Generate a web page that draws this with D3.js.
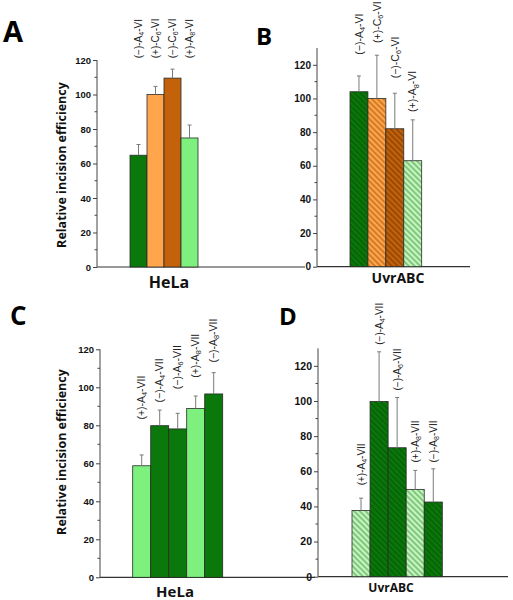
<!DOCTYPE html>
<html><head><meta charset="utf-8">
<script src="https://cdn.jsdelivr.net/npm/d3@7"></script>
<style>body{margin:0;background:#fff}</style>
</head><body>
<svg id="c" width="513" height="600" xmlns="http://www.w3.org/2000/svg"></svg>
<script>
// ---- data ----
const catsA = ["(−)-A4-VI","(+)-C6-VI","(−)-C6-VI","(+)-A8-VI"];
const valsA = [64.8, 100, 109.5, 74.8];
const errsA = [6.2, 4.7, 5.2, 7.5];
const labelAtA = [121, 121, 121, 121];

const catsB = ["(−)-A4-VI","(+)-C6-VI","(−)-C6-VI","(+)-A8-VI"];
const valsB = [104, 100, 82, 63];
const errsB = [9.4, 25.7, 21.1, 24.3];
const labelAtB = [126, 133, 112, 92];

const catsC = ["(+)-A4-VII","(−)-A4-VII","(−)-A6-VII","(+)-A8-VII","(−)-A8-VII"];
const valsC = [58.7, 79.8, 78.1, 88.9, 96.5];
const errsC = [5.7, 8.2, 8.2, 6.5, 11.2];
const labelAtC = [83, 92, 99, 105, 113];

const catsD = ["(+)-A4-VII","(−)-A4-VII","(−)-A6-VII","(+)-A8-VII","(−)-A8-VII"];
const valsD = [37.7, 99.7, 73.4, 49.7, 42.5];
const errsD = [7, 28.3, 28.6, 10.8, 18.9];
const labelAtD = [52, 132, 106, 65, 65];

const yTicks = [0, 20, 40, 60, 80, 100, 120];
const yMinorTicks = [10, 30, 50, 70, 90, 110];
const yTitle = "Relative incision efficiency";

// ---- styles ----
const solid = {dg:"#0a780a", lg:"#7df07d", lo:"#ffa64d", br:"#c4620c"};
const hatch = {
  dg:{fill:"#0a780a", line:"#035203"},
  lo:{fill:"#ffa64d", line:"#a65200"},
  br:{fill:"#c4620c", line:"#6e3400"},
  lg:{fill:"#c6f5c0", line:"#3c9c3c"}
};
const svg = d3.select("#c");
const defs = svg.append("defs");
Object.entries(hatch).forEach(([k,h])=>{
  const p = defs.append("pattern").attr("id","h_"+k).attr("patternUnits","userSpaceOnUse")
    .attr("width",4).attr("height",4).attr("patternTransform","rotate(-45)");
  p.append("rect").attr("width",4).attr("height",4).attr("fill",h.fill);
  p.append("line").attr("x1",1).attr("x2",1).attr("y1",0).attr("y2",4)
    .attr("stroke",h.line).attr("stroke-width",1);
});

const panels = [
  {letter:"A", lx:3, ly:42, lfs:29, cats:catsA, vals:valsA, errs:errsA, labAt:labelAtA,
   colors:["dg","lo","br","lg"], hatched:false, axisX:97, y0:267, yTop:60, dom:[0,120],
   bx:[130,198], xEnd:305, group:"HeLa", gx:169, gy:288, gfs:16, tfs:9.5, lfsz:10,
   title:{x:62, y:165}},
  {letter:"B", lx:256, ly:45, lfs:24, cats:catsB, vals:valsB, errs:errsB, labAt:labelAtB,
   colors:["dg","lo","br","lg"], hatched:true, axisX:317, y0:266.7, yTop:48, dom:[0,130],
   bx:[350,421.7], xEnd:470, group:"UvrABC", gx:398, gy:283, gfs:14, tfs:10, lfsz:10.5},
  {letter:"C", lx:10, ly:325, lfs:26, cats:catsC, vals:valsC, errs:errsC, labAt:labelAtC,
   colors:["lg","dg","dg","lg","dg"], hatched:false, axisX:100, y0:577.3, yTop:349.3, dom:[0,120],
   bx:[132.7,222.7], xEnd:315, group:"HeLa", gx:175, gy:597, gfs:15, tfs:9.5, lfsz:10.5,
   title:{x:62, y:452}},
  {letter:"D", lx:279, ly:325, lfs:24, cats:catsD, vals:valsD, errs:errsD, labAt:labelAtD,
   colors:["lg","dg","dg","lg","dg"], hatched:true, axisX:318, y0:576.7, yTop:348.3, dom:[0,130],
   bx:[352,442.3], xEnd:508, group:"UvrABC", gx:391, gy:592, gfs:12, tfs:10.5, lfsz:10}
];

function catLabel(sel, txt, fs){
  const m = txt.match(/^(.*?[AC])(\d)(.*)$/);
  sel.append("tspan").text(m[1]);
  sel.append("tspan").text(m[2]).attr("font-size", fs*0.7).attr("dy", fs*0.2);
  sel.append("tspan").text(m[3]).attr("dy", -fs*0.2);
}

panels.forEach(P=>{
  const g = svg.append("g");
  const y = d3.scaleLinear().domain(P.dom).range([P.y0, P.yTop]);
  const x = d3.scaleBand().domain(P.cats.map((c,i)=>i)).range(P.bx).padding(0);
  const data = P.cats.map((c,i)=>({c, i, v:P.vals[i], e:P.errs[i], la:P.labAt[i], col:P.colors[i]}));

  // letter
  g.append("text").attr("x",P.lx).attr("y",P.ly).text(P.letter)
    .attr("font-family","Open Sans, sans-serif").attr("font-weight","bold")
    .attr("font-size",P.lfs).attr("fill","#000");

  // x axis line
  g.append("line").attr("x1",P.axisX).attr("x2",P.xEnd).attr("y1",y(0)).attr("y2",y(0))
    .attr("stroke","#333").attr("stroke-width",1.2);

  // bars
  g.selectAll("rect.bar").data(data).join("rect").attr("class","bar")
    .attr("x",d=>x(d.i)).attr("width",x.bandwidth())
    .attr("y",d=>y(d.v)).attr("height",d=>y(0)-y(d.v))
    .attr("fill",d=>P.hatched?`url(#h_${d.col})`:solid[d.col])
    .attr("stroke","#2a2a2a").attr("stroke-width",0.8);

  // error bars
  const eb = g.selectAll("g.eb").data(data).join("g").attr("class","eb");
  eb.append("line").attr("x1",d=>x(d.i)+x.bandwidth()/2).attr("x2",d=>x(d.i)+x.bandwidth()/2)
    .attr("y1",d=>y(d.v)).attr("y2",d=>y(d.v+d.e)).attr("stroke","#7a7a7a").attr("stroke-width",1);
  eb.append("line").attr("x1",d=>x(d.i)+x.bandwidth()/2-2).attr("x2",d=>x(d.i)+x.bandwidth()/2+2)
    .attr("y1",d=>y(d.v+d.e)).attr("y2",d=>y(d.v+d.e)).attr("stroke","#7a7a7a").attr("stroke-width",1);

  // category labels
  g.selectAll("text.cat").data(data).join("text").attr("class","cat")
    .attr("transform",d=>`translate(${x(d.i)+x.bandwidth()/2},${y(d.la)}) rotate(-90)`)
    .attr("dy","0.35em").attr("text-anchor","start")
    .attr("font-family","Liberation Sans, Arial, sans-serif").attr("font-size",P.lfsz).attr("fill","#222")
    .each(function(d){ catLabel(d3.select(this), d.c, P.lfsz); });

  // y axis
  const ax = g.append("g").attr("transform",`translate(${P.axisX},0)`)
    .call(d3.axisLeft(y).tickValues(yTicks).tickSize(4).tickPadding(2).tickFormat(d3.format("d")));
  ax.select(".domain").attr("d",`M0,${y(0)}V${P.yTop}`).attr("stroke","#444");
  ax.selectAll(".tick line").attr("stroke","#444");
  ax.selectAll(".tick text").attr("font-family","Liberation Sans, Arial, sans-serif")
    .attr("font-weight","bold").attr("font-size",P.tfs).attr("fill","#111");
  g.selectAll("line.minor").data(yMinorTicks.filter(t=>t<=P.dom[1])).join("line").attr("class","minor")
    .attr("x1",P.axisX-2.5).attr("x2",P.axisX).attr("y1",d=>y(d)).attr("y2",d=>y(d))
    .attr("stroke","#444");

  // group label
  g.append("text").attr("x",P.gx).attr("y",P.gy).attr("text-anchor","middle").text(P.group)
    .attr("font-family","Open Sans, sans-serif").attr("font-weight","bold").attr("font-size",P.gfs).attr("fill","#111");

  // y title
  if(P.title){
    g.append("text").attr("transform",`translate(${P.title.x},${P.title.y}) rotate(-90)`)
      .attr("text-anchor","middle").attr("dy","0.35em").text(yTitle)
      .attr("font-family","Open Sans, sans-serif").attr("font-weight","bold").attr("font-size",12.5).attr("fill","#111");
  }
});
</script>
</body></html>
